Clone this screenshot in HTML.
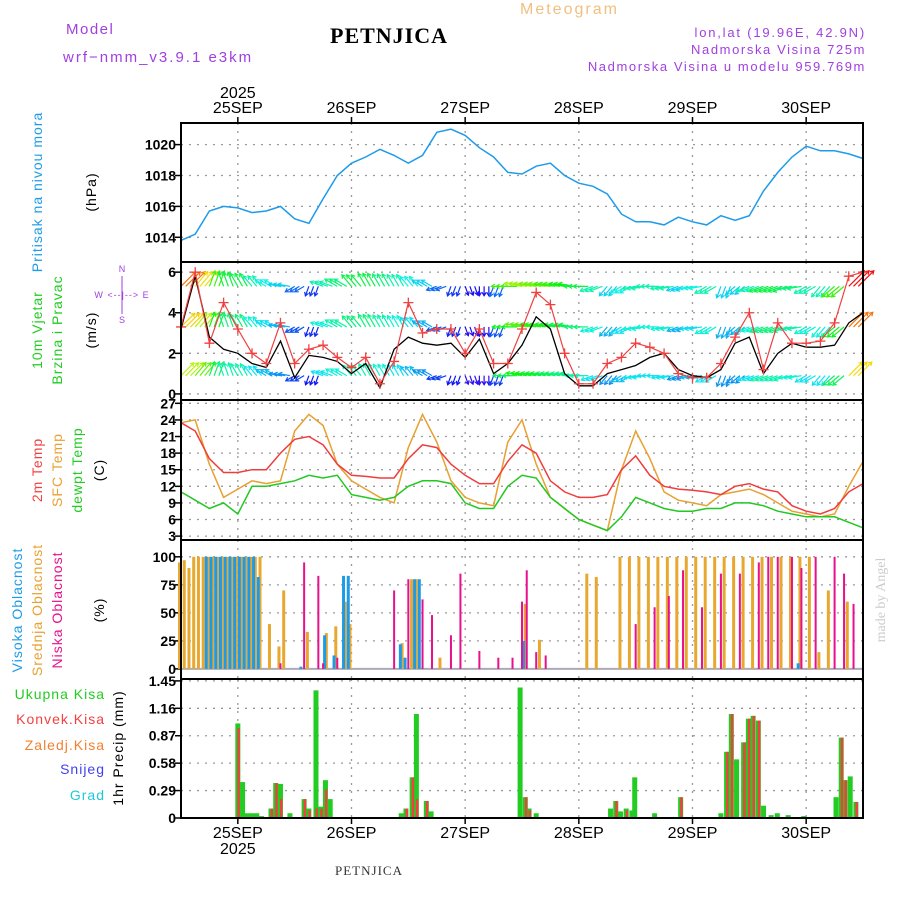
<!DOCTYPE html>
<html><head><meta charset="utf-8"><style>
body{margin:0;background:#fff;width:900px;height:900px;overflow:hidden}
svg{font-family:"Liberation Sans",sans-serif}
</style></head><body>
<svg id="c" width="900" height="900"></svg>
<script>
const startHour=0; // 24SEP 12:00
const dayLabels=["25SEP","26SEP","27SEP","28SEP","29SEP","30SEP"];
const dayHours=[12,36,60,84,108,132];
const pressure=[1013.8,1014.2,1015.7,1016.0,1015.9,1015.6,1015.7,1016.0,1015.2,1014.9,1016.5,1018.0,1018.8,1019.2,1019.7,1019.3,1018.8,1019.3,1020.8,1021.0,1020.6,1019.8,1019.2,1018.2,1018.1,1018.6,1018.8,1018.0,1017.5,1017.3,1016.8,1015.5,1015.0,1015.0,1014.8,1015.3,1015.0,1014.8,1015.4,1015.1,1015.4,1017.0,1018.2,1019.2,1019.9,1019.6,1019.6,1019.4,1019.1];
const windSpeed=[3.2,5.8,2.8,2.2,2.0,1.5,1.3,2.6,0.8,1.9,1.8,1.6,1.0,1.5,0.3,2.2,2.8,2.5,2.4,2.5,1.8,2.7,1.0,1.5,2.4,3.8,3.2,1.0,0.4,0.4,1.0,1.2,1.4,1.8,2.0,1.2,0.9,0.8,1.2,2.5,2.8,1.0,2.0,2.5,2.3,2.3,2.4,3.5,4.0];
const windGust=[3.3,6.0,2.5,4.5,3.2,2.0,1.5,3.5,1.5,2.2,2.4,1.8,1.3,1.8,0.5,1.6,4.5,3.0,3.2,3.2,2.0,3.2,1.5,1.5,3.2,5.0,4.4,2.0,0.5,0.5,1.5,1.8,2.5,2.3,2.0,1.0,0.8,0.8,1.5,2.8,4.0,1.2,3.5,2.5,2.5,2.6,3.5,5.8,6.0];
const windDir=[45,40,20,340,330,320,300,280,240,200,290,300,320,330,330,330,320,300,250,200,160,180,200,270,280,280,280,280,270,250,220,240,260,270,260,250,260,240,200,230,250,250,250,260,240,220,230,45,60];
const windStrength=[0.9,0.8,0.6,0.5,0.5,0.4,0.35,0.3,0.2,0.15,0.4,0.45,0.5,0.5,0.45,0.4,0.35,0.3,0.2,0.15,0.1,0.1,0.2,0.6,0.7,0.65,0.6,0.55,0.5,0.4,0.3,0.35,0.4,0.4,0.4,0.3,0.35,0.4,0.3,0.3,0.4,0.5,0.5,0.45,0.4,0.4,0.6,1.0,1.0];
const windRowLevels=[5.3,3.3,0.9];
const t2m=[23.5,22,17,14.5,14.5,15,15,18,20.5,21,19.5,16,14,13.8,13.5,13.5,17,19.5,19,16,14,12.5,12.5,16.5,19.5,18,13,11,10,10,10.5,15,17.5,14,12,11.5,11.3,11,10.5,12,12.5,11.5,11,8.5,7.5,7,8,11,12.5];
const tSfc=[23.5,24,16,10,11.5,13,12.5,13,22,25,23,16,13,11.5,10,9,19,25,20,13,10,9,8.5,20,24,16,10,8,6,5,4,15,22,17,11,9.5,9,8.5,10.5,11,11.5,10.5,9,7.5,7,6.5,7,12,16.5];
const tDew=[11,9.5,8,9,7,12,12,12.5,13,14,13.5,14,10.5,10,9.5,10,12,13,13,12.5,9,8,8,12,14,13.5,10,8,6,5,4,6.5,10,9,8,7.5,7.5,8,8,9,9,8.5,7.5,7,6.5,6.5,6.5,5.5,4.5];
const cloudHigh=[[5,100],[6,100],[7,100],[8,100],[9,100],[10,100],[11,100],[12,100],[13,100],[14,100],[15,100],[16,82],[25,2],[30,30],[32,12],[34,83],[35,83],[46,22],[47,10],[49,80],[50,80],[72,25],[130,5]];
const cloudMid=[[0,95],[1,97],[2,90],[3,100],[4,100],[5,100],[6,100],[7,100],[8,100],[9,100],[10,100],[11,100],[12,100],[13,100],[14,100],[15,100],[16,100],[17,100],[19,40],[21,20],[22,70],[27,33],[31,32],[33,38],[35,60],[36,40],[47,23],[49,80],[50,80],[55,10],[73,58],[76,26],[86,85],[88,82],[93,100],[95,100],[97,100],[99,100],[101,100],[103,100],[105,100],[107,100],[109,100],[111,100],[113,100],[115,100],[117,100],[119,100],[121,100],[123,100],[125,100],[127,100],[129,100],[131,100],[133,100],[135,15],[137,70],[141,60]];
const cloudLow=[[21,5],[26,95],[29,83],[30,5],[33,10],[45,70],[48,80],[51,62],[53,48],[57,30],[59,85],[63,16],[67,10],[70,10],[72,60],[73,88],[75,15],[77,12],[96,40],[100,55],[103,65],[106,88],[110,55],[114,85],[118,85],[122,95],[124,100],[126,100],[129,100],[131,90],[134,100],[138,100],[140,85],[142,58]];
const precipTotal=[[12,1.0],[13,0.38],[14,0.05],[15,0.05],[16,0.05],[17,0.02],[19,0.1],[20,0.37],[21,0.36],[23,0.05],[26,0.2],[27,0.1],[28.5,1.35],[29.5,0.12],[30.5,0.4],[31.5,0.2],[46.5,0.05],[47.5,0.1],[48.8,0.43],[49.7,1.1],[51.8,0.18],[52.8,0.07],[71.6,1.38],[72.7,0.22],[73.5,0.1],[75,0.05],[90.7,0.1],[91.8,0.18],[92.8,0.07],[94,0.1],[95.2,0.08],[95.8,0.43],[100,0.05],[105.5,0.22],[114,0.05],[115.2,0.7],[116.2,1.1],[117.3,0.62],[118.8,0.8],[119.8,1.05],[120.8,1.08],[121.9,1.03],[123,0.13],[124.6,0.03],[125.9,0.05],[128.2,0.03],[131.5,0.02],[138.3,0.22],[139.4,0.85],[140.2,0.4],[141.3,0.44],[142.5,0.17]];
const precipConv=[[12,0.95],[19,0.1],[20,0.37],[21,0.2],[26,0.2],[27,0.08],[28.5,0.1],[29.5,0.1],[30.5,0.3],[47.5,0.1],[48.8,0.43],[49.7,0.2],[51.8,0.18],[72.7,0.22],[73.5,0.08],[91.8,0.18],[94,0.08],[105.5,0.22],[115.2,0.7],[116.2,1.1],[118.8,0.8],[119.8,1.05],[120.8,1.08],[121.9,1.03],[139.4,0.85],[140.2,0.4],[142.5,0.17]];

const NS="http://www.w3.org/2000/svg";
const svg=document.getElementById('c');
function el(tag,attrs,parent){const e=document.createElementNS(NS,tag);for(const k in attrs)e.setAttribute(k,attrs[k]);(parent||svg).appendChild(e);return e;}
const X0=181,X1=863,HRS=144;
const xs=h=>X0+(h-startHour)*(X1-X0)/HRS;
const panels=[{y0:123,y1:262,min:1012.4,max:1021.4},{y0:262,y1:400,min:-0.3,max:6.5},{y0:400,y1:540,min:2.3,max:27.6},{y0:540,y1:679,min:-9,max:115},{y0:679,y1:818,min:0,max:1.47}];
const ys=(p,v)=>{const P=panels[p];return P.y1-(v-P.min)/(P.max-P.min)*(P.y1-P.y0);};
const ticks=[[1014,1016,1018,1020],[0,2,4,6],[3,6,9,12,15,18,21,24,27],[0,25,50,75,100],[0,0.29,0.58,0.87,1.16,1.45]];
const tickLbl=[["1014","1016","1018","1020"],["0","2","4","6"],["3","6","9","12","15","18","21","24","27"],["0","25","50","75","100"],["0","0.29","0.58","0.87","1.16","1.45"]];
function txt(s,x,y,o,name){const t=el('text',Object.assign({x:x,y:y,'font-size':14},o||{}));t.textContent=s;return t;}

panels.forEach((P,p)=>{
  const g=el('g',{});
  
  
  ticks[p].forEach((v,i)=>{const y=ys(p,v);
    el('line',{x1:X0,x2:X1,y1:y,y2:y,stroke:'#999','stroke-dasharray':'2,6','stroke-width':1.3},g);
    el('line',{x1:X0-6,x2:X0,y1:y,y2:y,stroke:'#000','stroke-width':1.5},g);
    txt(tickLbl[p][i],X0-5,y+5,{'text-anchor':'end','font-size':14,'font-weight':'bold'},'y-tick-label');});
  dayHours.forEach(h=>{el('line',{x1:xs(h),x2:xs(h),y1:P.y0,y2:P.y1,stroke:'#999','stroke-dasharray':'2,6','stroke-width':1.3},g);});
});
const pts=a=>a.map((v,i)=>xs(i*3).toFixed(1)+','+v.toFixed(1)).join(' ');
let l=el('polyline',{points:pts(pressure.map(v=>ys(0,v))),fill:'none',stroke:'#1e9be8','stroke-width':1.5});

function hue(s){const h=Math.max(0,Math.min(1,s));return 'hsl('+(270-h*270)+',90%,50%)';}
windRowLevels.forEach((lev,r)=>{windDir.forEach((d,i)=>{for(let k=0;k<3;k++){
  const h=i*3+k; if(h>=HRS)continue; const x=xs(h),y=ys(1,lev);const s=windStrength[Math.min(i,windStrength.length-1)]*(1-r*0.1);
  const len=8+s*14;const a=(d-90)*Math.PI/180;const x2=x+Math.cos(a)*len,y2=y+Math.sin(a)*len;
  const g=el('g',{stroke:hue(s),'stroke-width':1.2,fill:'none'});
  
  
  el('line',{x1:x,y1:y,x2:x2,y2:y2},g);
  const b1=a+2.6,b2=a-2.6;el('polyline',{points:(x2+Math.cos(b1)*4)+','+(y2+Math.sin(b1)*4)+' '+x2+','+y2+' '+(x2+Math.cos(b2)*4)+','+(y2+Math.sin(b2)*4)},g);
}});});
l=el('polyline',{points:pts(windSpeed.map(v=>ys(1,v))),fill:'none',stroke:'#000','stroke-width':1.3});

l=el('polyline',{points:pts(windGust.map(v=>ys(1,v))),fill:'none',stroke:'#f04040','stroke-width':1.2});

windGust.forEach((v,i)=>{const x=xs(i*3),y=ys(1,v);const m=el('path',{d:`M${x-5},${y}h10M${x},${y-5}v10`,stroke:'#f04040','stroke-width':1.3});
  
  });
[[tSfc,'#e8a030','sfc-temp-line'],[t2m,'#f03c3c','2m-temp-line'],[tDew,'#22c822','dewpoint-line']].forEach(([a,c,n])=>{
  const p=el('polyline',{points:pts(a.map(v=>ys(2,v))),fill:'none',stroke:c,'stroke-width':1.5});
  });
el('line',{x1:X0,x2:X1,y1:ys(3,0),y2:ys(3,0),stroke:'#aab','stroke-width':2});
[[cloudMid,'#e8a830',-1,3],[cloudHigh,'#1e9be8',1,3],[cloudLow,'#e8108c',0,2]].forEach(([a,c,o,w])=>{
  a.forEach(([h,v])=>{const x=xs(h)+o*1.5,y=ys(3,v);const r=el('rect',{x:x-w/2,y:y,width:w,height:ys(3,0)-y,fill:c});
    
    });});
precipTotal.forEach(([h,v])=>{const x=xs(h),y=ys(4,v);const r=el('rect',{x:x-2.5,y:y,width:5,height:ys(4,0)-y,fill:'#22cc22'});
  
  });
precipConv.forEach(([h,v])=>{const x=xs(h),y=ys(4,v);const r=el('rect',{x:x-0.5,y:y,width:2.5,height:ys(4,0)-y,fill:'#f04040'});
  
  });
panels.forEach((P,p)=>{const r=el('rect',{x:X0,y:P.y0,width:X1-X0,height:P.y1-P.y0,fill:'none',stroke:'#000','stroke-width':2});
  });
dayLabels.forEach((d,i)=>{const x=xs(dayHours[i]);
  el('line',{x1:x,x2:x,y1:117,y2:123,stroke:'#000','stroke-width':1.5});el('line',{x1:x,x2:x,y1:818,y2:824,stroke:'#000','stroke-width':1.5});
  txt(d,x,113,{'text-anchor':'middle','font-size':16},'top-date-label');txt(d,x,838,{'text-anchor':'middle','font-size':16},'bottom-date-label');});
txt('2025',xs(12),98,{'text-anchor':'middle','font-size':16},'top-year-label');
txt('2025',xs(12),854,{'text-anchor':'middle','font-size':16},'bottom-year-label');
txt('Model',66,34,{fill:'#a040e0','font-size':15,'letter-spacing':'1.5'},'model-label');
txt('wrf−nmm_v3.9.1 e3km',63,62,{fill:'#a040e0','font-size':15,'letter-spacing':'2'},'model-name');
txt('PETNJICA',330,43,{'font-family':'Liberation Serif,serif','font-weight':'bold','font-size':22,'letter-spacing':'1'},'title');
txt('Meteogram',520,14,{fill:'#f0c080','font-size':16,'letter-spacing':'2'},'meteogram-title');
txt('lon,lat (19.96E, 42.9N)',866,37,{fill:'#a040e0','text-anchor':'end','font-size':13,'letter-spacing':'1.8'},'coords');
txt('Nadmorska Visina 725m',866,54,{fill:'#a040e0','text-anchor':'end','font-size':13,'letter-spacing':'1.6'},'elevation');
txt('Nadmorska Visina u modelu 959.769m',866,71,{fill:'#a040e0','text-anchor':'end','font-size':13,'letter-spacing':'1.6'},'model-elevation');
txt('PETNJICA',369,875,{'text-anchor':'middle','font-family':'Liberation Serif,serif','font-size':13,fill:'#333','letter-spacing':'1'},'bottom-title');
txt('made by Angel',885,600,{'text-anchor':'middle','font-family':'Liberation Serif,serif','font-size':14,fill:'#ccc',transform:'rotate(-90 885 600)'},'credit');
function rot(s,x,y,c,n){txt(s,x,y,{fill:c,'text-anchor':'middle','letter-spacing':'1',transform:`rotate(-90 ${x} ${y})`},n);}
rot('Pritisak na nivou mora',42,192,'#1e9be8','pressure-title');rot('(hPa)',96,192,'#000','pressure-unit');
rot('10m Vjetar',42,330,'#22cc22','wind-title');rot('Brzina i Pravac',62,330,'#22cc22','wind-title-2');rot('(m/s)',96,330,'#000','wind-unit');
txt('N',122,272,{fill:'#a040e0','font-size':9,'text-anchor':'middle'},'compass-n');
txt('W  <--|-->  E',122,298,{fill:'#a040e0','font-size':9,'text-anchor':'middle','letter-spacing':'1'},'compass-we');
txt('S',122,323,{fill:'#a040e0','font-size':9,'text-anchor':'middle'},'compass-s');
el('line',{x1:122,x2:122,y1:276,y2:314,stroke:'#a040e0','stroke-width':1});
rot('2m Temp',42,470,'#f04040','t2m-title');rot('SFC Temp',62,470,'#e8a030','sfc-title');rot('dewpt Temp',82,470,'#22cc22','dew-title');rot('(C)',104,470,'#000','temp-unit');
rot('Visoka Oblacnost',22,610,'#1e9be8','high-cloud-title');rot('Srednja Oblacnost',42,610,'#e8a030','mid-cloud-title');rot('Niska Oblacnost',62,610,'#e8108c','low-cloud-title');rot('(%)',104,610,'#000','cloud-unit');
rot('1hr Precip (mm)',123,748,'#000','precip-title');
[['Ukupna Kisa','#22cc22',699],['Konvek.Kisa','#f04040',724],['Zaledj.Kisa','#f08030',750],['Snijeg','#4040f0',774],['Grad','#20c8d8',800]].forEach(([s,c,y])=>txt(s,105,y,{fill:c,'text-anchor':'end','font-size':14,'letter-spacing':'1'},'precip-legend-entry'));
</script>
</body></html>
